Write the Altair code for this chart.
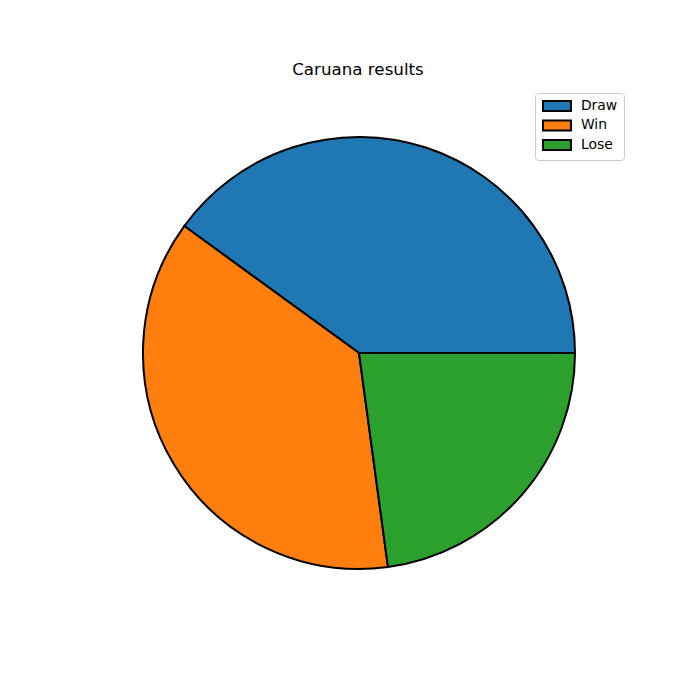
import math
import altair as alt
import pandas as pd

labels = ["Draw", "Win", "Lose"]
games = [14, 13, 8]
colors = ["#1f77b4", "#ff7f0e", "#2ca02c"]

# stacking order so that slices run counter-clockwise from 3 o'clock, as in the reference
stack_order = [2, 1, 0]

df = pd.DataFrame({"result": labels, "games": games, "ord": stack_order})

FONT = "DejaVu Sans"

chart = (
    alt.Chart(df)
    .mark_arc(radius=216, stroke="black", strokeWidth=2, strokeJoin="miter")
    .encode(
        theta=alt.Theta(
            "games:Q",
            stack=True,
            scale=alt.Scale(range=[-3 * math.pi / 2, math.pi / 2]),
        ),
        order=alt.Order("ord:Q", sort="ascending"),
        color=alt.Color(
            "result:N",
            sort=labels,
            scale=alt.Scale(domain=labels, range=colors),
            legend=alt.Legend(
                title=None,
                orient="none",
                legendX=527,
                legendY=16,
                padding=6,
                fillColor="rgba(255,255,255,0.8)",
                strokeColor="#cccccc",
                cornerRadius=3,
                symbolType="M-1,-1H4.6V1H-1Z",
                symbolSize=100,
                symbolStrokeColor="black",
                symbolStrokeWidth=2,
                symbolOpacity=1,
                labelFont=FONT,
                labelFontSize=13.9,
                labelColor="black",
                labelOffset=26,
                rowPadding=0.5,
            ),
        ),
        x=alt.value(351),
        y=alt.value(276),
    )
    .properties(
        width=684,
        height=615,
        padding={"top": 69, "left": 0, "right": 0, "bottom": 0},
        autosize=alt.AutoSizeParams(type="none"),
        title=alt.TitleParams(
            "Caruana results",
            font=FONT,
            fontSize=16.7,
            fontWeight="normal",
            color="black",
            anchor="middle",
            offset=-2,
            dx=8,
        ),
    )
    .configure_view(stroke=None)
)

chart.save("out.html", embed_options={"renderer": "svg", "actions": False})
